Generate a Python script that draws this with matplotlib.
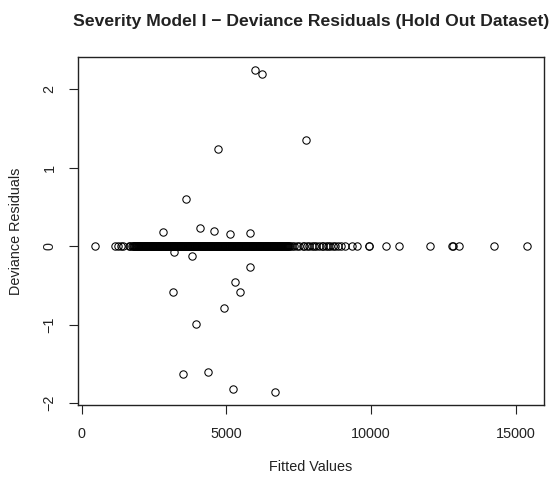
import matplotlib
matplotlib.use("Agg")
import matplotlib.pyplot as plt
import numpy as np

# Points on (essentially) zero residual line: fitted values
zero_fitted = [
    473, 1141, 1256, 1349, 1429, 1637, 1683, 1750,
    1780, 1800, 1825, 1845, 1870, 1890, 1912, 1935, 1955, 1978, 2000, 2022,
    2045, 2065, 2088, 2110, 2132, 2155, 2175, 2198, 2220, 2242, 2265, 2285,
    2308, 2330, 2352, 2375, 2395, 2418, 2440, 2462, 2485, 2505, 2528, 2550,
    2572, 2595, 2615, 2638, 2660, 2682, 2705, 2725, 2748, 2770, 2792, 2815,
    2835, 2858, 2880, 2902, 2925, 2945, 2968, 2990, 3012, 3035, 3055, 3078,
    3100, 3122, 3145, 3165, 3188, 3210, 3232, 3255, 3275, 3298, 3320, 3342,
    3365, 3385, 3408, 3430, 3452, 3475, 3495, 3518, 3540, 3562, 3585, 3605,
    3628, 3650, 3672, 3695, 3715, 3738, 3760, 3782, 3805, 3825, 3848, 3870,
    3892, 3915, 3935, 3958, 3980, 4002, 4025, 4045, 4068, 4090, 4112, 4135,
    4155, 4178, 4200, 4222, 4245, 4265, 4288, 4310, 4332, 4355, 4375, 4398,
    4420, 4442, 4465, 4485, 4508, 4530, 4552, 4575, 4595, 4618, 4640, 4662,
    4685, 4705, 4728, 4750, 4772, 4795, 4815, 4838, 4860, 4882, 4905, 4925,
    4948, 4970, 4992, 5015, 5035, 5058, 5080, 5102, 5125, 5145, 5168, 5190,
    5212, 5235, 5255, 5278, 5300, 5322, 5345, 5365, 5388, 5410, 5432, 5455,
    5475, 5498, 5520, 5542, 5565, 5585, 5608, 5630, 5652, 5675, 5695, 5718,
    5740, 5762, 5785, 5805, 5828, 5850, 5872, 5895, 5915, 5938, 5960, 5982,
    6005, 6025, 6048, 6070, 6092, 6115, 6135, 6158, 6180, 6202, 6225, 6245,
    6268, 6290, 6312, 6335, 6355, 6378, 6400, 6422, 6445, 6465, 6488, 6510,
    6532, 6555, 6575, 6598, 6620, 6642, 6665, 6685, 6708, 6730, 6752, 6775,
    6795, 6818, 6840, 6862, 6885, 6905, 6928, 6950, 6972, 6995, 7015, 7038,
    7060, 7082, 7105, 7125, 7148, 7170, 7192,
    7280, 7350, 7460, 7520, 7640, 7700, 7790, 7850, 7960, 8030, 8110, 8200,
    8290, 8350, 8440, 8520, 8600, 8680, 8760, 8850, 8960, 9090,
    9346, 9533, 9914, 9930, 10512, 10972, 12023, 12794, 12839, 13036, 14257, 15380,
]
zero_resid = [0.0] * len(zero_fitted)

# Non-zero residual points
out_fitted = [5993, 6248, 4703, 7746, 3607, 2824, 4080, 4588, 5118, 5820,
              3181, 3804, 5833, 5290, 3147, 5463, 4910, 3970,
              3517, 4357, 5233, 6674]
out_resid = [2.25, 2.195, 1.245, 1.36, 0.599, 0.178, 0.234, 0.191, 0.162, 0.175,
             -0.072, -0.118, -0.27, -0.46, -0.581, -0.586, -0.781, -0.994,
             -1.626, -1.609, -1.817, -1.86]

x_ticks = [0, 5000, 10000, 15000]
y_ticks = [-2, -1, 0, 1, 2]

title = "Severity Model I \u2212 Deviance Residuals (Hold Out Dataset)"
xlabel = "Fitted Values"
ylabel = "Deviance Residuals"

plt.rcParams['font.family'] = ['Liberation Sans', 'DejaVu Sans']
fg = '#222222'

fig = plt.figure(figsize=(5.51, 4.79), dpi=100)
ax = fig.add_axes([78/551, 1-405/479, (544-78)/551, (405-57)/479])

x = np.array(zero_fitted + out_fitted, dtype=float)
y = np.array(zero_resid + out_resid, dtype=float)
ax.plot(x, y, linestyle='none', marker='o', markersize=5.3,
        markerfacecolor='none', markeredgecolor='black', markeredgewidth=0.75)

xr = x.max() - x.min()
yr = y.max() - y.min()
ax.set_xlim(x.min() - 0.04*xr, x.max() + 0.04*xr)
ax.set_ylim(y.min() - 0.04*yr, y.max() + 0.04*yr)

ax.set_xticks(x_ticks)
ax.set_xticklabels([str(v) for v in x_ticks])
ax.set_yticks(y_ticks)
ax.set_yticklabels([str(v).replace('-', '\u2212') for v in y_ticks],
                   rotation=90, va='center')

for s in ax.spines.values():
    s.set_color(fg)
    s.set_linewidth(1.0)
ax.tick_params(direction='out', length=6.5, width=0.8, colors=fg,
               labelsize=10.4, labelcolor=fg, pad=9)

ax.set_title(title, fontsize=12.6, fontweight='bold', color=fg, pad=22)
ax.set_xlabel(xlabel, fontsize=10.4, color=fg, labelpad=14)
ax.set_ylabel(ylabel, fontsize=10.4, color=fg, labelpad=14)

fig.savefig("out.png", dpi=100)
